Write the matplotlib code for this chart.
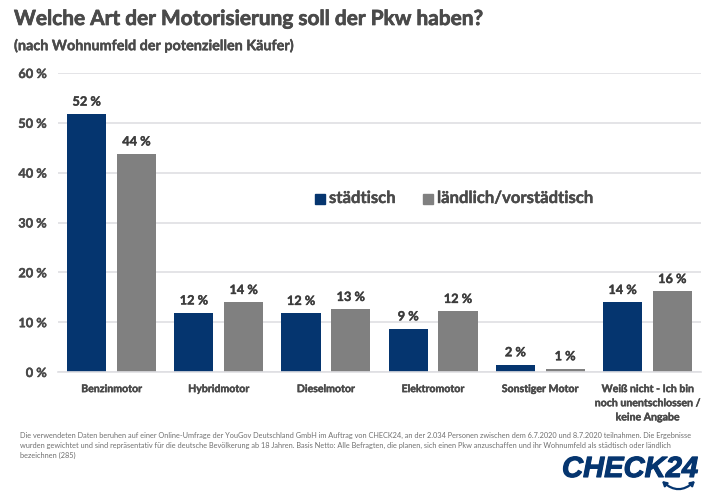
import numpy as np
import matplotlib
matplotlib.use("Agg")
import matplotlib.pyplot as plt
import matplotlib.patheffects as pe

plt.rcParams['font.family'] = ['Lato', 'DejaVu Sans']

W, H = 710, 500
NAVY = '#05356f'
GREY = '#808080'
TEXT = '#4a4a4a'

categories = ['Benzinmotor', 'Hybridmotor', 'Dieselmotor', 'Elektromotor', 'Sonstiger Motor',
              'Weiß nicht - Ich bin\nnoch unentschlossen /\nkeine Angabe']
staedtisch = [51.8, 11.9, 11.8, 8.7, 1.5, 14.0]
laendlich = [43.8, 14.0, 12.6, 12.2, 0.7, 16.2]
staedtisch_labels = ['52 %', '12 %', '12 %', '9 %', '2 %', '14 %']
laendlich_labels = ['44 %', '14 %', '13 %', '12 %', '1 %', '16 %']
yticks = [0, 10, 20, 30, 40, 50, 60]

footnote = ["Die verwendeten Daten beruhen auf einer Online-Umfrage der YouGov Deutschland GmbH im Auftrag von CHECK24, "
            "an der 2.034 Personen zwischen dem 6.7.2020 und 8.7.2020 teilnahmen. Die Ergebnisse",
            "wurden gewichtet und sind repräsentativ für die deutsche Bevölkerung ab 18 Jahren. Basis Netto: Alle Befragten, "
            "die planen, sich einen Pkw anzuschaffen und ihr Wohnumfeld als städtisch oder ländlich",
            "bezeichnen (285)"]

fig = plt.figure(figsize=(W / 100, H / 100), dpi=100)
ax = fig.add_axes([58 / W, 1 - 372 / H, 643 / W, 299 / H])

x = np.arange(len(categories))
bw = 0.366
off = 0.232
bars1 = ax.bar(x - off, staedtisch, bw, color=NAVY)
bars2 = ax.bar(x + off, laendlich, bw, color=GREY)

# small texts come out thinner than in the original, thicken them a bit
thicken = [pe.withStroke(linewidth=0.3, foreground=TEXT)]

for bars, labels in ((bars1, staedtisch_labels), (bars2, laendlich_labels)):
    for b, lab in zip(bars, labels):
        ax.annotate(lab, (b.get_x() + b.get_width() / 2, b.get_height()), xytext=(0, 4.5),
                    textcoords='offset points', ha='center', va='bottom',
                    fontsize=9.2, fontweight='bold', color='#3c3c3c', path_effects=thicken)

ax.set_xlim(-0.5, 5.5)
ax.set_ylim(0, 60)
ax.set_yticks(yticks)
ax.set_yticklabels([f'{v} %' for v in yticks], fontsize=9.2, fontweight='bold', color=TEXT, path_effects=thicken)
ax.set_xticks(x)
ax.set_xticklabels(categories, fontsize=7.6, fontweight='bold', color=TEXT, linespacing=1.35, path_effects=thicken)
ax.tick_params(axis='both', length=0)
ax.tick_params(axis='x', pad=8)
ax.tick_params(axis='y', pad=8)
ax.grid(axis='y', color='#dfdfe3', linewidth=1.2)
ax.set_axisbelow(True)
for s in ('top', 'right', 'left'):
    ax.spines[s].set_visible(False)
ax.spines['bottom'].set_color('#dfdfe3')
ax.spines['bottom'].set_linewidth(1.2)

# title block
title = fig.text(14 / W, 1 - 19 / H, 'Welche Art der Motorisierung soll der Pkw haben?', fontsize=15,
                 fontweight='bold', color=TEXT, va='center')
title.set_path_effects([pe.withStroke(linewidth=0.5, foreground=TEXT)])
fig.text(14 / W, 1 - 46 / H, '(nach Wohnumfeld der potenziellen Käufer)', fontsize=10.35,
         fontweight='bold', color=TEXT, va='center', path_effects=thicken)

# legend, placed by hand like in the original
fig.patches.append(plt.Rectangle((315 / W, 1 - 203.5 / H), 10 / W, 9.5 / H, color=NAVY, transform=fig.transFigure))
fig.patches.append(plt.Rectangle((423 / W, 1 - 203.5 / H), 9.5 / W, 9.5 / H, color=GREY, transform=fig.transFigure))
fig.text(329 / W, 1 - 198 / H, 'städtisch', fontsize=12, fontweight='bold', color=TEXT, va='center', path_effects=thicken)
fig.text(437 / W, 1 - 198 / H, 'ländlich/vorstädtisch', fontsize=12, fontweight='bold', color=TEXT, va='center',
         path_effects=thicken)

for i, line in enumerate(footnote):
    fig.text(20 / W, 1 - (435 + 10 * i) / H, line, fontsize=5.33, color='#707070', va='center')

# logo
logo = fig.text(562 / W, 1 - 469 / H, 'CHECK24', fontsize=21, fontweight='bold', style='italic',
                color=NAVY, va='center', family=['Liberation Sans', 'DejaVu Sans'])
logo.set_path_effects([pe.withStroke(linewidth=0.8, foreground=NAVY)])
logo_ax = fig.add_axes([0, 0, 1, 1], facecolor='none')
logo_ax.set_xlim(0, W)
logo_ax.set_ylim(H, 0)
logo_ax.axis('off')
logo_ax.annotate('', xy=(695, 481), xytext=(662, 481),
                 arrowprops=dict(arrowstyle='<|-|>,head_length=0.25,head_width=0.15', color=NAVY, linewidth=1.6,
                                 connectionstyle='arc3,rad=0.45', shrinkA=0, shrinkB=0))

fig.savefig('out.png', dpi=100)
